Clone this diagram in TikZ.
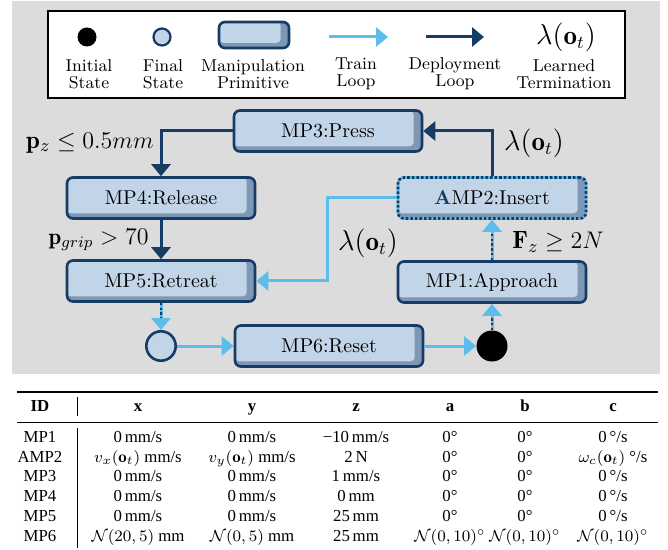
\documentclass[tikz,border=0pt]{standalone}
\usepackage{amsmath}
\usepackage{fontspec}
\newfontfamily\tabfont{Liberation Serif}
\usetikzlibrary{arrows.meta}

\definecolor{bgGray}{HTML}{DCDCDC}
\definecolor{mpFill}{HTML}{C2D4E7}
\definecolor{mpShade}{HTML}{7D97B5}
\definecolor{mpLine}{HTML}{163B64}
\definecolor{trainBlue}{HTML}{5CBDEB}

\begin{document}
\begin{tikzpicture}[x=0.5pt,y=-0.5pt,
    mpbox/.style={draw=mpLine,line width=1.3pt,fill=mpShade,rounded corners=3pt,
        minimum width=94pt,minimum height=20.5pt,inner sep=0pt,font=\fontsize{10}{12}\selectfont,
        path picture={\fill[mpFill,rounded corners=2pt] (path picture bounding box.north west)
            rectangle ([xshift=-4.2pt,yshift=2.6pt]path picture bounding box.south east);}},
    learnbox/.style={mpbox,draw=trainBlue,postaction={draw=mpLine,line width=1.3pt,dash pattern=on 1.3pt off 1pt}},
    finalst/.style={circle,draw=mpLine,line width=1.3pt,fill=mpFill,inner sep=0pt,minimum size=14.7pt},
    initst/.style={circle,fill=black,inner sep=0pt,minimum size=15.5pt},
    deploy/.style={draw=mpLine,line width=1.5pt,-{Triangle[length=6pt,width=9.5pt]}},
    train/.style={draw=trainBlue,line width=1.5pt,-{Triangle[length=6pt,width=9.5pt]}},
    traindot/.style={train,postaction={draw=mpLine,line width=0.8pt,dash pattern=on 1.2pt off 1.2pt,-,shorten >=6pt}},
    cond/.style={font=\fontsize{12.5}{15}\selectfont,inner sep=0pt},
    term/.style={font=\fontsize{13.5}{16}\selectfont,inner sep=0pt},
    legtxt/.style={font=\fontsize{8.6}{8.5}\selectfont,align=center,inner sep=0pt},
    cell/.style={font=\tabfont\fontsize{8.4}{10}\selectfont,anchor=base,inner sep=0pt},
    hcell/.style={cell,font=\tabfont\bfseries\fontsize{8.4}{10}\selectfont}]
    \useasboundingbox (0,0) rectangle (668,550);
    \fill[bgGray] (12,1) rectangle (660,374);

    \node[draw=black,line width=1.1pt,fill=white,minimum width=288.4pt,minimum height=43.4pt,inner sep=0pt] (legend) at (336.5,54.5) {};
    \node[initst,minimum size=9.5pt] (leginit) at (87,37) {};
    \node[finalst,line width=1.1pt,minimum size=8.5pt] (legfinal) at (162,37) {};
    \node[mpbox,minimum width=35pt,minimum height=13pt] (legmp) at (254,35) {};
    \coordinate (legtrainA) at (329,37);
    \coordinate (legtrainB) at (388,37);
    \coordinate (legdeployA) at (426,37);
    \coordinate (legdeployB) at (484,37);
    \draw[train] (legtrainA) -- (legtrainB);
    \draw[deploy] (legdeployA) -- (legdeployB);
    \node[term] (legterm) at (566,37) {$\lambda(\mathbf{o}_t)$};
    \node[legtxt] (legtxtinit) at (89,74) {Initial\\State};
    \node[legtxt] (legtxtfinal) at (163,74) {Final\\State};
    \node[legtxt] (legtxtmp) at (253,74) {Manipulation\\Primitive};
    \node[legtxt] (legtxttrain) at (356,74) {Train\\Loop};
    \node[legtxt] (legtxtdeploy) at (455,74) {Deployment\\Loop};
    \node[legtxt] (legtxtterm) at (564,74) {Learned\\Termination};

    \node[mpbox] (mp3) at (328,131) {MP3:Press};
    \node[mpbox] (mp4) at (161,198) {MP4:Release};
    \node[learnbox] (amp2) at (492,198) {\textbf{\color{mpLine}A}MP2:Insert};
    \node[mpbox] (mp5) at (161,281) {MP5:Retreat};
    \node[mpbox] (mp1) at (492,282) {MP1:Approach};
    \node[mpbox] (mp6) at (329,346) {MP6:Reset};
    \node[finalst] (final) at (161,346) {};
    \node[initst] (init) at (492,346) {};

    \draw[deploy] (mp3.west) -| (mp4.north);
    \draw[deploy] (mp4) -- (mp5);
    \draw[deploy] (amp2.north) |- (mp3.east);
    \draw[train] (amp2.west) -- ++(-69,0) |- (mp5.east);
    \draw[traindot] (mp1) -- (amp2);
    \draw[traindot] (mp5) -- (final);
    \draw[train] (final) -- (mp6);
    \draw[train] (mp6) -- (init);
    \draw[traindot] (init) -- (mp1);

    \node[cond,anchor=east] (pzcond) at (154,143) {$\mathbf{p}_z \leq 0.5mm$};
    \node[cond,font=\fontsize{11.5}{14}\selectfont,anchor=east] (gripcond) at (149,240) {$\mathbf{p}_{grip} > 70$};
    \node[term] (termA) at (534,143) {$\lambda(\mathbf{o}_t)$};
    \node[term] (termB) at (368,243) {$\lambda(\mathbf{o}_t)$};
    \node[cond] (fzcond) at (558,242) {$\mathbf{F}_z \geq 2N$};

    \draw[line width=0.8pt] (17,392) -- (658,392);
    \draw[line width=0.4pt] (17,422) -- (658,422);
    \draw[line width=0.4pt] (77,397) -- (77,416) (77,428) -- (77,548);
    \foreach \cx/\txt [count=\c] in {40/ID,138/x,252/y,356/z,450/a,525/b,613/c}
        \node[hcell] (hd-\c) at (\cx,411) {\txt};
    \foreach \cx/\txt [count=\c] in {40/MP1,138/{0\,mm/s},252/{0\,mm/s},356/{−10\,mm/s},450/{0°},525/{0°},613/{0\,°/s}}
        \node[cell] (ra-\c) at (\cx,442) {\txt};
    \foreach \cx/\txt [count=\c] in {40/AMP2,138/{$v_x(\mathbf{o}_t)$ mm/s},252/{$v_y(\mathbf{o}_t)$ mm/s},356/{2\,N},450/{0°},525/{0°},613/{$\omega_c(\mathbf{o}_t)$ °/s}}
        \node[cell] (rb-\c) at (\cx,462) {\txt};
    \foreach \cx/\txt [count=\c] in {40/MP3,138/{0\,mm/s},252/{0\,mm/s},356/{1\,mm/s},450/{0°},525/{0°},613/{0\,°/s}}
        \node[cell] (rc-\c) at (\cx,481) {\txt};
    \foreach \cx/\txt [count=\c] in {40/MP4,138/{0\,mm/s},252/{0\,mm/s},356/{0\,mm},450/{0°},525/{0°},613/{0\,°/s}}
        \node[cell] (rd-\c) at (\cx,501) {\txt};
    \foreach \cx/\txt [count=\c] in {40/MP5,138/{0\,mm/s},252/{0\,mm/s},356/{25\,mm},450/{0°},525/{0°},613/{0\,°/s}}
        \node[cell] (re-\c) at (\cx,521) {\txt};
    \foreach \cx/\txt [count=\c] in {40/MP6,138/{$\mathcal{N}(20,5)$ mm},252/{$\mathcal{N}(0,5)$ mm},356/{25\,mm},450/{$\mathcal{N}(0,10)^\circ$},525/{$\mathcal{N}(0,10)^\circ$},613/{$\mathcal{N}(0,10)^\circ$}}
        \node[cell] (rf-\c) at (\cx,541) {\txt};
\end{tikzpicture}
\end{document}
